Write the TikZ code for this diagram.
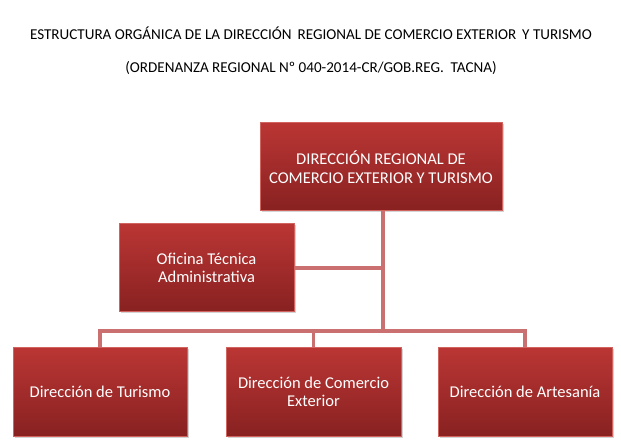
\documentclass[tikz,border=0pt]{standalone}
\usepackage{fontspec}
\setmainfont{Carlito}
\usetikzlibrary{shadows}
\definecolor{boxtop}{RGB}{186,54,52}
\definecolor{boxbot}{RGB}{136,33,33}
\definecolor{boxrim}{RGB}{210,100,96}
\definecolor{linkred}{RGB}{202,112,112}
\begin{document}
\begin{tikzpicture}[x=1pt,y=-1pt]
      \useasboundingbox (0,0) rectangle (621,443);

      \node (title1) at (311,33) {\fontsize{15.1}{17}\selectfont ESTRUCTURA ORGÁNICA DE LA DIRECCIÓN\, REGIONAL DE COMERCIO EXTERIOR\, Y TURISMO};
      \node (title2) at (311,68) {\fontsize{15.1}{17}\selectfont (ORDENANZA REGIONAL Nº 040-2014-CR/GOB.REG.\ \ TACNA)};

      \begin{scope}[every node/.style={rectangle,draw=boxrim,line width=1pt,
          top color=boxtop,bottom color=boxbot,text=white,align=center,
          minimum height=88pt,inner sep=2pt,
          drop shadow={shadow xshift=1.5pt,shadow yshift=-1.5pt,opacity=0.35},
          font=\fontsize{16.5}{18.5}\selectfont}]
        \node[minimum width=242pt] (dir) at (381,167) {DIRECCIÓN REGIONAL DE\\COMERCIO EXTERIOR Y TURISMO};
        \node[minimum width=175pt] (ofi) at (206.5,268) {Oficina Técnica\\Administrativa};
        \node[minimum width=174pt] (tur) at (100,392) {Dirección de Turismo};
        \node[minimum width=175pt] (com) at (313.5,392) {Dirección de Comercio\\Exterior};
        \node[minimum width=174pt] (art) at (525,392) {Dirección de Artesanía};
      \end{scope}

      \coordinate (hub) at (383,331);

      \begin{scope}[every path/.style={draw=linkred,line width=3.8pt}]
        \path (dir.south -| hub) -- (hub);
        \path (tur.north) |- (hub) -| (art.north);
        \path (com.north) -- (com.north |- hub);
        \path (ofi.east) -- (ofi.east -| hub);
      \end{scope}

    \end{tikzpicture}
\end{document}
